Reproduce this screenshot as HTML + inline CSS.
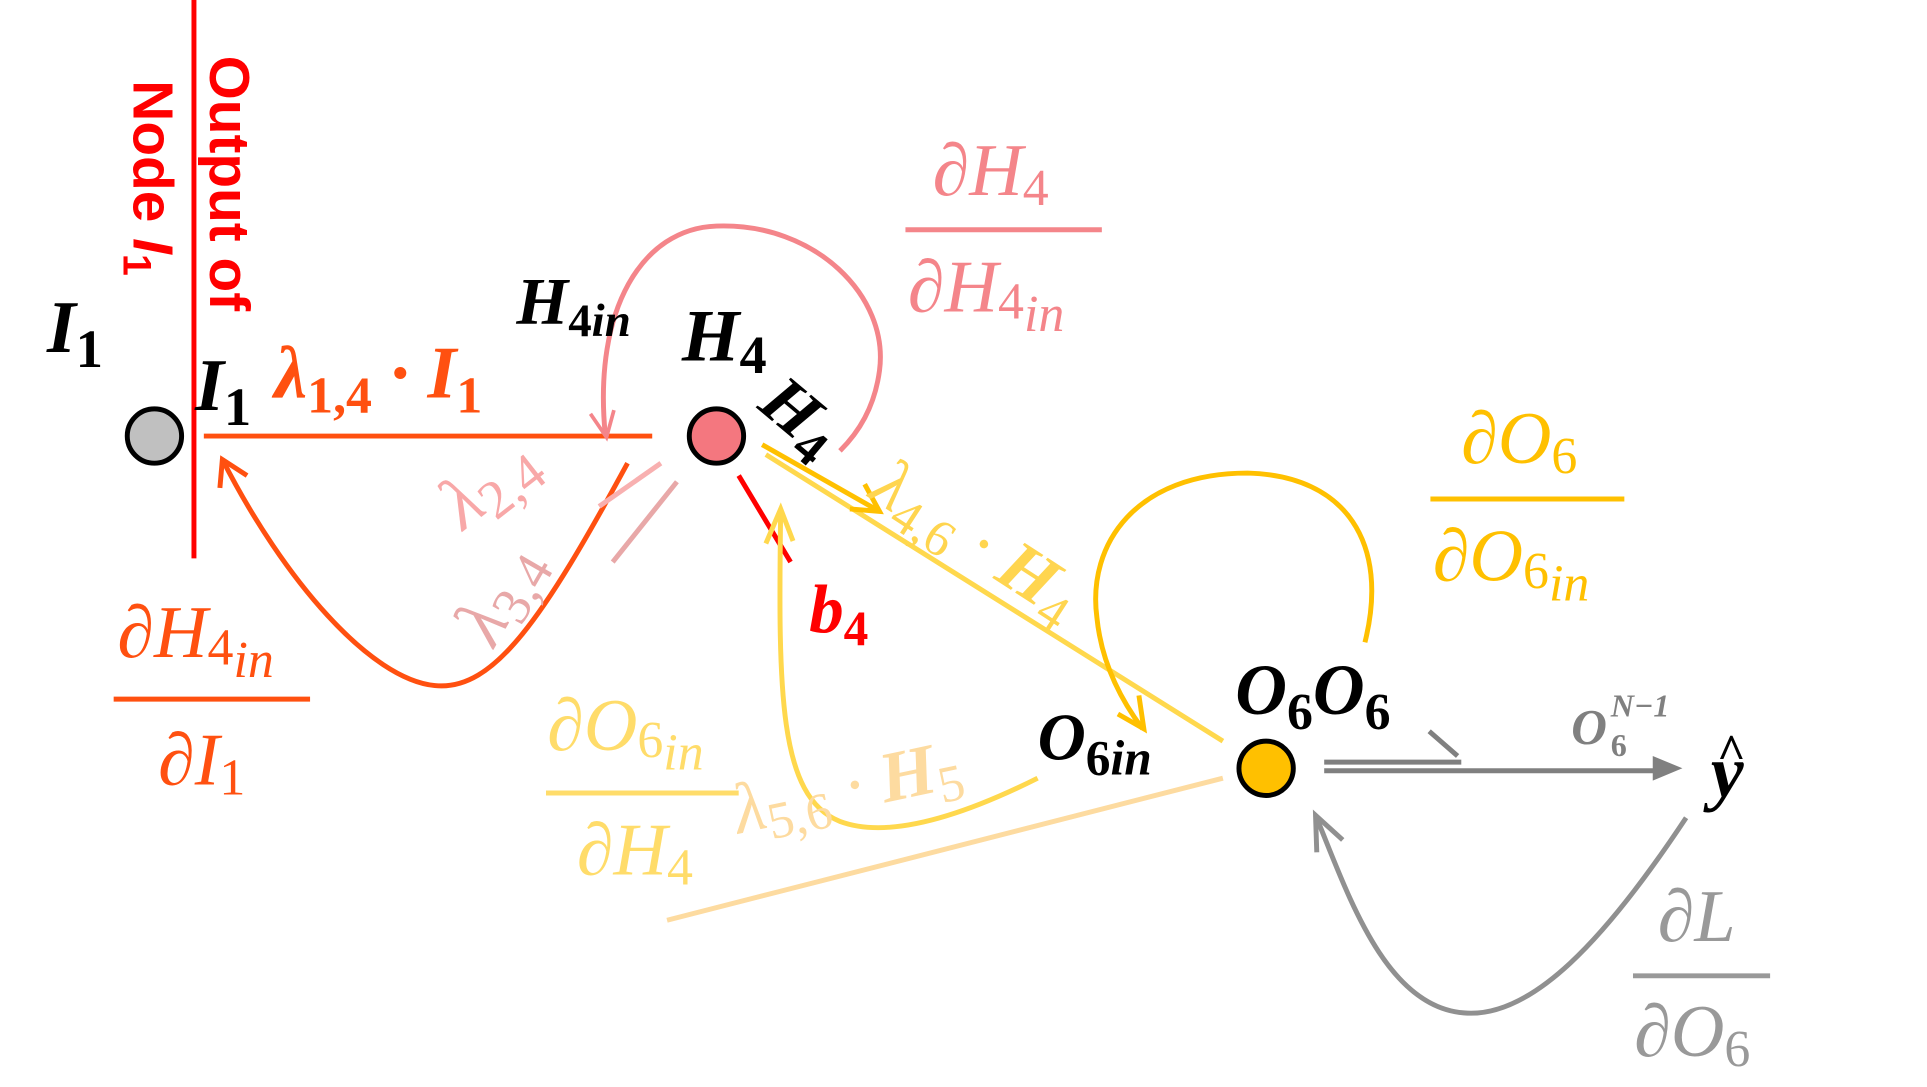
<!DOCTYPE html>
<html><head><meta charset="utf-8"><style>
html,body{margin:0;padding:0;background:#fff;width:1927px;height:1087px;overflow:hidden}
svg{display:block}
.m{font-family:"Liberation Serif",serif;font-style:italic}
.b{font-weight:bold}
</style></head><body>
<svg width="1927" height="1087" viewBox="0 0 1560 880" xmlns="http://www.w3.org/2000/svg">
<line x1="157" y1="0" x2="157" y2="452" stroke="#ff0000" stroke-width="4"/>
<text transform="translate(170,45) rotate(90)" font-family="Liberation Sans,sans-serif" font-weight="bold" font-size="46" fill="#ff0000">Output of</text>
<text transform="translate(108,65) rotate(90)" font-family="Liberation Sans,sans-serif" font-weight="bold" font-size="46" fill="#ff0000">Node <tspan font-style="italic">I</tspan><tspan font-size="32" dy="8">1</tspan></text>

<line x1="165" y1="353" x2="528" y2="353" stroke="#ff5010" stroke-width="4"/>
<path d="M508,375 C440,500 400,560 352,555 C300,550 230,470 180,372" fill="none" stroke="#ff5010" stroke-width="4"/>
<path d="M178,395 L180,372 L200,385" fill="none" stroke="#ff5010" stroke-width="4"/>

<path d="M490,352 C480,250 520,185 580,183 C660,180 720,240 712,300 C708,330 695,350 680,365" fill="none" stroke="#f4858a" stroke-width="4"/>
<path d="M478,335 L491,354 L497,332" fill="none" stroke="#f4858a" stroke-width="3"/>

<line x1="535" y1="375" x2="485" y2="410" stroke="#f8b0b0" stroke-width="4"/>
<line x1="548" y1="390" x2="496" y2="455" stroke="#e8a8a8" stroke-width="4"/>
<text class="m" transform="translate(375,430) rotate(-38)" font-size="60" fill="#f8a8a8">λ<tspan font-size="44" dy="10" font-style="normal">2,4</tspan></text>
<text class="m" transform="translate(400,525) rotate(-60)" font-size="60" fill="#e8a8a8">λ<tspan font-size="44" dy="10" font-style="normal">3,4</tspan></text>

<line x1="598" y1="385" x2="640" y2="455" stroke="#ff0000" stroke-width="4"/>
<text class="m b" x="655" y="512" font-size="56" fill="#ff0000">b<tspan font-size="40" dy="10" font-style="normal">4</tspan></text>

<line x1="620" y1="368" x2="990" y2="600" stroke="#ffd84d" stroke-width="4"/>
<line x1="617" y1="360" x2="712" y2="414" stroke="#ffc000" stroke-width="4"/>
<path d="M700,392 L712,414 L688,412" fill="none" stroke="#ffc000" stroke-width="4"/>
<text class="m" transform="translate(702,402) rotate(33)" font-size="58" fill="#ffd54f">λ<tspan font-size="42" dy="10" font-style="normal">4,6</tspan><tspan dy="-10"> · </tspan><tspan font-weight="bold">H</tspan><tspan font-size="42" dy="10" font-style="normal">4</tspan></text>

<path d="M1105,520 C1125,440 1090,385 1010,383 C920,383 880,440 888,500 C892,540 910,570 925,590" fill="none" stroke="#ffc000" stroke-width="4"/>
<path d="M905,578 L926,590 L922,563" fill="none" stroke="#ffc000" stroke-width="4"/>

<path d="M840,630 C780,660 720,680 680,665 C630,645 630,560 632,412" fill="none" stroke="#ffd84d" stroke-width="4"/>
<path d="M620,440 L632,412 L642,438" fill="none" stroke="#ffd84d" stroke-width="4"/>
<text class="m" transform="translate(598,675) rotate(-12)" font-size="58" fill="#fddba0">λ<tspan font-size="42" dy="10" font-style="normal">5,6</tspan><tspan dy="-10"> · </tspan><tspan font-weight="bold">H</tspan><tspan font-size="42" dy="10" font-style="normal">5</tspan></text>

<line x1="540" y1="745" x2="990" y2="630" stroke="#fddba0" stroke-width="4"/>

<line x1="1072" y1="617" x2="1183" y2="617" stroke="#808080" stroke-width="4"/>
<line x1="1072" y1="624" x2="1350" y2="624" stroke="#808080" stroke-width="4"/>
<polygon points="1362,622 1338,612 1338,632" fill="#808080"/>
<path d="M1157,592 L1180,612" fill="none" stroke="#808080" stroke-width="4"/>
<path d="M1365,662 C1300,760 1240,825 1185,820 C1120,815 1090,720 1065,660" fill="none" stroke="#909090" stroke-width="4"/>
<path d="M1066,690 L1065,660 L1087,680" fill="none" stroke="#909090" stroke-width="4"/>

<circle cx="125" cy="353" r="22" fill="#c0c0c0" stroke="#000" stroke-width="4"/>
<circle cx="580" cy="353" r="22" fill="#f4777f" stroke="#000" stroke-width="4"/>
<circle cx="1025" cy="622" r="22" fill="#ffc000" stroke="#000" stroke-width="4"/>

<text class="m b" x="38" y="285" font-size="60" fill="#000">I<tspan font-size="44" dy="12" font-style="normal">1</tspan></text>
<text class="m b" x="158" y="332" font-size="60" fill="#000">I<tspan font-size="44" dy="12" font-style="normal">1</tspan></text>
<text class="m b" x="222" y="322" font-size="60" fill="#ff5010">λ<tspan font-size="42" dy="12" font-style="normal">1,4</tspan><tspan dy="-12"> · I</tspan><tspan font-size="42" dy="12" font-style="normal">1</tspan></text>
<text class="m b" x="418" y="262" font-size="54" fill="#000">H<tspan font-size="38" dy="10" font-style="normal">4</tspan><tspan font-size="38" dy="0">in</tspan></text>
<text class="m b" x="552" y="292" font-size="60" fill="#000">H<tspan font-size="44" dy="10" font-style="normal">4</tspan></text>
<text class="m b" transform="translate(612,330) rotate(40)" font-size="56" fill="#000">H<tspan font-size="42" dy="10" font-style="normal">4</tspan></text>
<text class="m b" x="840" y="615" font-size="54" fill="#000">O<tspan font-size="40" dy="12" font-style="normal">6</tspan><tspan font-size="40">in</tspan></text>
<text class="m b" x="1000" y="578" font-size="58" fill="#000">O<tspan font-size="42" dy="12" font-style="normal">6</tspan><tspan dy="-12">O</tspan><tspan font-size="42" dy="12" font-style="normal">6</tspan></text>
<text class="m b" x="1272" y="602" font-size="40" fill="#808080">O</text>
<text class="m b" x="1304" y="580" font-size="26" fill="#808080">N−1</text>
<text x="1304" y="612" font-family="Liberation Serif,serif" font-weight="bold" font-size="26" fill="#808080">6</text>
<text class="m b" x="1385" y="645" font-size="60" fill="#000">y</text>
<text x="1390" y="622" font-family="Liberation Serif,serif" font-weight="bold" font-size="40" fill="#000">^</text>

<g class="m" font-size="60">
<text x="755" y="158" fill="#f4858a">∂H<tspan font-size="42" dy="8" font-style="normal">4</tspan></text>
<line x1="733" y1="186" x2="892" y2="186" stroke="#f4858a" stroke-width="4"/>
<text x="735" y="252" fill="#f4858a">∂H<tspan font-size="42" dy="6" font-style="normal">4</tspan><tspan font-size="42" dy="10">in</tspan></text>

<text x="1183" y="375" fill="#ffc000">∂O<tspan font-size="42" dy="8" font-style="normal">6</tspan></text>
<line x1="1158" y1="404" x2="1315" y2="404" stroke="#ffc000" stroke-width="4"/>
<text x="1160" y="470" fill="#ffc000">∂O<tspan font-size="42" dy="6" font-style="normal">6</tspan><tspan font-size="42" dy="10">in</tspan></text>

<text x="95" y="532" fill="#ff5010">∂H<tspan font-size="42" dy="6" font-style="normal">4</tspan><tspan font-size="42" dy="10">in</tspan></text>
<line x1="92" y1="566" x2="251" y2="566" stroke="#ff5010" stroke-width="4"/>
<text x="128" y="635" fill="#ff5010">∂I<tspan font-size="42" dy="8" font-style="normal">1</tspan></text>

<text x="443" y="607" fill="#ffdc6a">∂O<tspan font-size="42" dy="6" font-style="normal">6</tspan><tspan font-size="42" dy="10">in</tspan></text>
<line x1="442" y1="642" x2="598" y2="642" stroke="#ffdc6a" stroke-width="4"/>
<text x="467" y="708" fill="#ffdc6a">∂H<tspan font-size="42" dy="8" font-style="normal">4</tspan></text>

<text x="1342" y="762" fill="#999">∂L</text>
<line x1="1322" y1="790" x2="1433" y2="790" stroke="#999" stroke-width="4"/>
<text x="1323" y="855" fill="#999">∂O<tspan font-size="42" dy="8" font-style="normal">6</tspan></text>
</g>
</svg>
</body></html>
